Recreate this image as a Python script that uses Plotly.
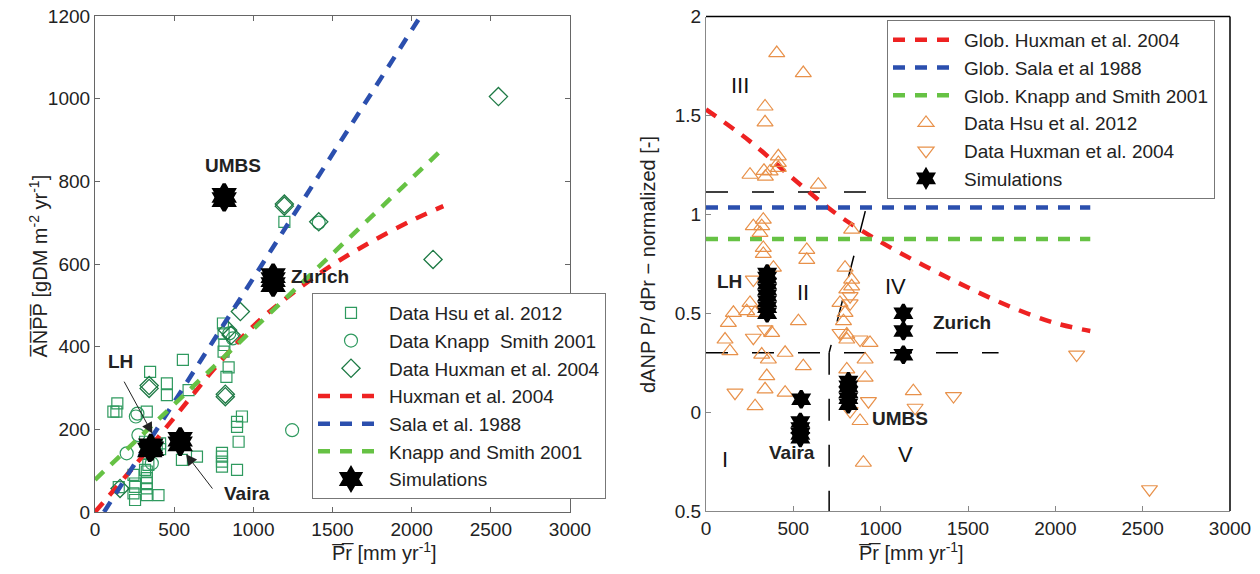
import plotly.graph_objects as go

# ---------------- LEFT PANEL DATA ----------------
hsu_x = [116, 135, 141, 150, 327, 348, 454, 454, 555, 591, 411, 411, 549, 644, 401, 253, 253, 243, 243,
         327, 327, 327, 327, 327, 337, 390, 316, 327, 316, 253,
         808, 812, 817, 812, 844, 830, 802, 802, 802, 802, 897, 907, 897, 897, 928, 1196]
hsu_y = [243, 243, 263, 60, 243, 339, 311, 283, 368, 295, 166, 152, 126, 134, 41, 29, 61, 90, 45,
         98, 82, 70, 57, 41, 114, 162, 170, 142, 102, 69,
         456, 432, 404, 388, 350, 327, 143, 134, 122, 110, 102, 170, 206, 218, 231, 702]

knapp_x = [258, 268, 274, 200, 359, 1245, 848, 870, 1413]
knapp_y = [231, 238, 186, 142, 118, 198, 432, 420, 700]

hux_x = [158, 342, 342, 823, 823, 838, 860, 918, 1196, 1196, 1413, 2135, 2548]
hux_y = [57, 299, 306, 279, 285, 440, 428, 485, 745, 740, 702, 611, 1005]

hux_line_x = [0, 250, 500, 750, 1000, 1250, 1500, 1750, 2000, 2200]
hux_line_y = [0, 112, 228, 345, 450, 530, 598, 655, 705, 740]
sala_line_x = [57, 2057]
sala_line_y = [0, 1200]
knapp_line_x = [0, 2200]
knapp_line_y = [78, 880]

sim_l_x = [346, 352, 357, 538, 538, 816, 816, 1125, 1125, 1125]
sim_l_y = [150, 160, 153, 165, 176, 756, 766, 550, 562, 572]

# ---------------- RIGHT PANEL DATA ----------------
g_hux_x = [0, 250, 500, 750, 1000, 1250, 1500, 1750, 2000, 2200]
g_hux_y = [1.53, 1.37, 1.18, 1.0, 0.86, 0.74, 0.63, 0.53, 0.45, 0.41]
g_sala_x = [0, 2200]
g_sala_y = [1.035, 1.035]
g_knapp_x = [0, 2200]
g_knapp_y = [0.875, 0.875]

up_x = [405, 557, 338, 338, 414, 414, 414, 367, 332, 252, 340, 643,
        271, 328, 319, 309, 328, 328, 577, 577, 386, 796, 834, 834, 834,
        157, 128, 109, 137, 252, 233, 281, 338, 376, 319, 357, 348, 338, 281, 453, 453, 557, 529,
        806, 767, 796, 787, 806, 806, 806, 911, 911, 939, 882, 901, 1187]
up_y = [1.815, 1.714, 1.545, 1.465, 1.293, 1.26, 1.235, 1.217, 1.22, 1.20, 1.19, 1.15,
        0.94, 0.973, 0.94, 0.906, 0.83, 0.80, 0.82, 0.77, 0.73, 0.73, 0.67, 0.636, 0.923,
        0.502, 0.451, 0.367, 0.308, 0.552, 0.51, 0.502, 0.544, 0.401, 0.291, 0.266, 0.182, 0.115, 0.03, 0.30, 0.098, 0.232, 0.46,
        0.62, 0.552, 0.502, 0.46, 0.392, 0.367, 0.216, 0.266, 0.174, 0.35, -0.045, -0.256, 0.106]

down_x = [271, 166, 271, 338, 825, 825, 767, 882, 930, 825, 1197, 1417, 2122, 2539]
down_y = [0.67, 0.098, 0.376, 0.418, 0.586, 0.55, 0.40, 0.367, 0.055, 0.005, 0.022, 0.081, 0.291, -0.39]

sim_r_x = [350, 350, 350, 350, 350, 350, 350, 350,
           545, 540, 540, 540, 540,
           815, 815, 815, 815, 815,
           1130, 1130, 1130]
sim_r_y = [0.50, 0.53, 0.56, 0.59, 0.62, 0.65, 0.68, 0.70,
           0.065, -0.05, -0.08, -0.11, -0.13,
           0.04, 0.07, 0.10, 0.13, 0.155,
           0.50, 0.41, 0.29]

# region boundaries (right panel)
bnd_top_x = [0, 940, 705]
bnd_top_y = [1.113, 1.113, 0.30]
bnd_mid_x = [0, 1675]
bnd_mid_y = [0.30, 0.30]
bnd_v_x = [705, 705]
bnd_v_y = [0.30, -0.5]

FONT = "Liberation Sans, Arial, sans-serif"
SQ_GREEN = "#2f9a5f"
DI_GREEN = "#1e7a45"
ORANGE = "#e8914a"
RED = "#ee2222"
BLUE = "#2b4fae"
LGREEN = "#66c244"

fig = go.Figure()

# Left panel traces
fig.add_trace(go.Scatter(x=hsu_x, y=hsu_y, mode="markers", name="Data Hsu et al. 2012",
                         marker=dict(symbol="square-open", size=11, color=SQ_GREEN, line=dict(width=1.2)),
                         xaxis="x", yaxis="y", legend="legend"))
fig.add_trace(go.Scatter(x=knapp_x, y=knapp_y, mode="markers", name="Data Knapp  Smith 2001",
                         marker=dict(symbol="circle-open", size=13, color=SQ_GREEN, line=dict(width=1.2)),
                         xaxis="x", yaxis="y", legend="legend"))
fig.add_trace(go.Scatter(x=hux_x, y=hux_y, mode="markers", name="Data Huxman et al. 2004",
                         marker=dict(symbol="diamond-open", size=14, color=DI_GREEN, line=dict(width=1.3)),
                         xaxis="x", yaxis="y", legend="legend"))
fig.add_trace(go.Scatter(x=hux_line_x, y=hux_line_y, mode="lines", name="Huxman et al. 2004",
                         line=dict(color=RED, width=4.5, dash="12px,10px", shape="spline"),
                         xaxis="x", yaxis="y", legend="legend"))
fig.add_trace(go.Scatter(x=sala_line_x, y=sala_line_y, mode="lines", name="Sala et al. 1988",
                         line=dict(color=BLUE, width=4.5, dash="12px,10px"),
                         xaxis="x", yaxis="y", legend="legend"))
fig.add_trace(go.Scatter(x=knapp_line_x, y=knapp_line_y, mode="lines", name="Knapp and Smith 2001",
                         line=dict(color=LGREEN, width=4.5, dash="12px,10px"),
                         xaxis="x", yaxis="y", legend="legend"))
fig.add_trace(go.Scatter(x=sim_l_x, y=sim_l_y, mode="markers", name="Simulations",
                         marker=dict(symbol="hexagram", size=17, color="black", line=dict(width=3.5, color="black")),
                         xaxis="x", yaxis="y", legend="legend"))

# Right panel traces
for bx, by in [(bnd_top_x, bnd_top_y), (bnd_mid_x, bnd_mid_y), (bnd_v_x, bnd_v_y)]:
    fig.add_trace(go.Scatter(x=bx, y=by, mode="lines", showlegend=False, hoverinfo="skip",
                             line=dict(color="black", width=1.5, dash="22px,24px"),
                             xaxis="x2", yaxis="y2"))
fig.add_trace(go.Scatter(x=g_hux_x, y=g_hux_y, mode="lines", name="Glob. Huxman et al. 2004",
                         line=dict(color=RED, width=4.5, dash="12px,10px", shape="spline"),
                         xaxis="x2", yaxis="y2", legend="legend2"))
fig.add_trace(go.Scatter(x=g_sala_x, y=g_sala_y, mode="lines", name="Glob. Sala et al 1988",
                         line=dict(color=BLUE, width=4.5, dash="12px,10px"),
                         xaxis="x2", yaxis="y2", legend="legend2"))
fig.add_trace(go.Scatter(x=g_knapp_x, y=g_knapp_y, mode="lines", name="Glob. Knapp and Smith 2001",
                         line=dict(color=LGREEN, width=4.5, dash="12px,10px"),
                         xaxis="x2", yaxis="y2", legend="legend2"))
fig.add_trace(go.Scatter(x=up_x, y=up_y, mode="markers", name="Data Hsu et al. 2012",
                         marker=dict(symbol="triangle-up-open", size=14, color=ORANGE, line=dict(width=1.2)),
                         xaxis="x2", yaxis="y2", legend="legend2"))
fig.add_trace(go.Scatter(x=down_x, y=down_y, mode="markers", name="Data Huxman et al. 2004",
                         marker=dict(symbol="triangle-down-open", size=14, color=ORANGE, line=dict(width=1.2)),
                         xaxis="x2", yaxis="y2", legend="legend2"))
fig.add_trace(go.Scatter(x=sim_r_x, y=sim_r_y, mode="markers", name="Simulations",
                         marker=dict(symbol="hexagram", size=13, color="black", line=dict(width=3, color="black")),
                         xaxis="x2", yaxis="y2", legend="legend2"))

axis_common = dict(showgrid=False, zeroline=False, ticks="inside", ticklen=5, tickwidth=1, automargin=False,
                   tickfont=dict(family=FONT, size=19, color="#222"), showline=True, linewidth=1.2)

legend_common = dict(font=dict(family=FONT, size=19, color="#222"), bgcolor="white",
                     bordercolor="#777", borderwidth=1, itemwidth=66, tracegroupgap=0,
                     xanchor="left", yanchor="top")

OV = "\u0305"
annotations = [
    # axis titles
    dict(text="A" + OV + "N" + OV + "P" + OV + "P" + OV + " [gDM m<sup>-2</sup> yr<sup>-1</sup>]",
         x=23 / 1260, y=1 - 266 / 574, xref="paper", yref="paper", textangle=-90, showarrow=False,
         font=dict(family=FONT, size=20, color="#222")),
    dict(text="P" + OV + "r" + OV + " [mm yr<sup>-1</sup>]", x=330 / 1260, y=1 - 566 / 574,
         xref="paper", yref="paper", showarrow=False, font=dict(family=FONT, size=20, color="#222")),
    dict(text="dANP P/ dPr \u2212 normalized [-]", x=648 / 1260, y=1 - 264 / 574,
         xref="paper", yref="paper", textangle=-90, showarrow=False,
         font=dict(family=FONT, size=20, color="#222")),
    dict(text="P" + OV + "r" + OV + " [mm yr<sup>-1</sup>]", x=966 / 1260, y=1 - 566 / 574,
         xref="paper", yref="paper", showarrow=False, font=dict(family=FONT, size=20, color="#222")),
    # left labels
    dict(text="<b>UMBS</b>", x=873, y=839, xref="x", yref="y", showarrow=False,
         font=dict(family=FONT, size=19, color="#222")),
    dict(text="<b>Zurich</b>", x=1225, y=570, xref="x", yref="y", showarrow=False, xanchor="left",
         font=dict(family=FONT, size=19, color="#222")),
    dict(text="<b>LH</b>", x=158, y=364, xref="x", yref="y", showarrow=False,
         font=dict(family=FONT, size=19, color="#222")),
    dict(text="<b>Vaira</b>", x=960, y=45, xref="x", yref="y", showarrow=False,
         font=dict(family=FONT, size=19, color="#222")),
    dict(text="", x=362, y=190, ax=179, ay=319, xref="x", yref="y", axref="x", ayref="y",
         showarrow=True, arrowhead=2, arrowsize=2.2, arrowwidth=1, arrowcolor="#222", standoff=0),
    dict(text="", x=575, y=140, ax=749, ay=53, xref="x", yref="y", axref="x", ayref="y",
         showarrow=True, arrowhead=2, arrowsize=2.2, arrowwidth=1, arrowcolor="#222", standoff=0),
    # right labels
    dict(text="<b>LH</b>", x=137, y=0.662, xref="x2", yref="y2", showarrow=False,
         font=dict(family=FONT, size=19, color="#222")),
    dict(text="<b>Vaira</b>", x=491, y=-0.205, xref="x2", yref="y2", showarrow=False,
         font=dict(family=FONT, size=19, color="#222")),
    dict(text="<b>UMBS</b>", x=1111, y=-0.034, xref="x2", yref="y2", showarrow=False,
         font=dict(family=FONT, size=19, color="#222")),
    dict(text="<b>Zurich</b>", x=1466, y=0.452, xref="x2", yref="y2", showarrow=False,
         font=dict(family=FONT, size=19, color="#222")),
    dict(text="III", x=195, y=1.65, xref="x2", yref="y2", showarrow=False,
         font=dict(family=FONT, size=22, color="#111")),
    dict(text="II", x=557, y=0.603, xref="x2", yref="y2", showarrow=False,
         font=dict(family=FONT, size=22, color="#111")),
    dict(text="IV", x=1083, y=0.636, xref="x2", yref="y2", showarrow=False,
         font=dict(family=FONT, size=22, color="#111")),
    dict(text="I", x=109, y=-0.239, xref="x2", yref="y2", showarrow=False,
         font=dict(family=FONT, size=22, color="#111")),
    dict(text="V", x=1140, y=-0.214, xref="x2", yref="y2", showarrow=False,
         font=dict(family=FONT, size=22, color="#111")),
]

shapes = [
    dict(type="line", xref="x2 domain", yref="y2 domain", x0=0, x1=1, y0=1, y1=1,
         line=dict(color="black", width=1.5)),
    dict(type="line", xref="x2 domain", yref="y2 domain", x0=1, x1=1, y0=0, y1=1,
         line=dict(color="black", width=1.5)),
]

fig.update_layout(
    width=1260, height=574,
    margin=dict(l=0, r=0, t=0, b=0, autoexpand=False),
    paper_bgcolor="white", plot_bgcolor="white",
    font=dict(family=FONT, size=19, color="#222"),
    xaxis=dict(domain=[95 / 1260, 570 / 1260], range=[0, 3000], tickvals=[0, 500, 1000, 1500, 2000, 2500, 3000],
               mirror="ticks", linecolor="#666", tickcolor="#666", anchor="y", **axis_common),
    yaxis=dict(domain=[1 - 512 / 574, 1 - 16 / 574], range=[0, 1200], tickvals=[0, 200, 400, 600, 800, 1000, 1200],
               mirror="ticks", linecolor="#666", tickcolor="#666", anchor="x", **axis_common),
    xaxis2=dict(domain=[706 / 1260, 1230 / 1260], range=[0, 3000], tickvals=[0, 500, 1000, 1500, 2000, 2500, 3000],
                linecolor="#888", tickcolor="#888", anchor="y2", **axis_common),
    yaxis2=dict(domain=[1 - 511 / 574, 1 - 16.5 / 574], range=[-0.5, 2], tickvals=[-0.5, 0, 0.5, 1, 1.5, 2],
                ticktext=["0.5", "0", "0.5", "1", "1.5", "2"],
                linecolor="#888", tickcolor="#888", anchor="x2", **axis_common),
    legend=dict(x=312 / 1260, y=1 - 293 / 574, **legend_common),
    legend2=dict(x=887 / 1260, y=1 - 20 / 574, **legend_common),
    annotations=annotations,
    shapes=shapes,
    showlegend=True,
)

fig.write_html("out.html")
